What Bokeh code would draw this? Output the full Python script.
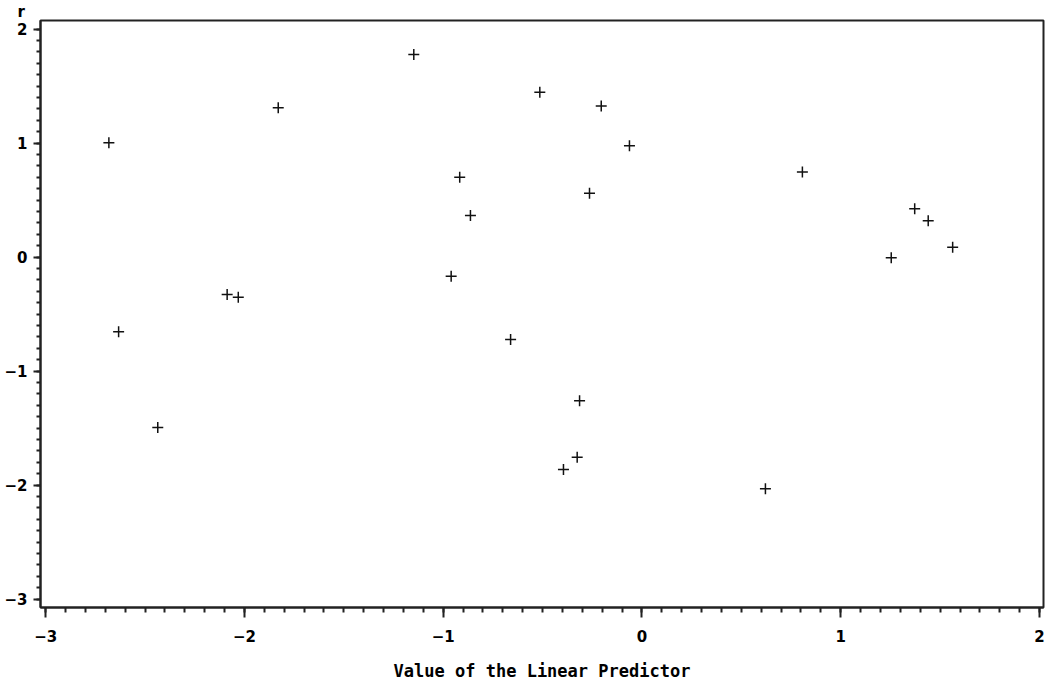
from bokeh.plotting import figure
from bokeh.models import Range1d, FixedTicker, Title
from bokeh.embed import file_html
from bokeh.resources import INLINE

# Data (linear predictor vs residual r)
linear_predictor = [-2.682, -2.633, -2.436, -2.087, -2.031, -1.830, -1.148, -0.960,
                    -0.917, -0.863, -0.661, -0.514, -0.395, -0.326, -0.314, -0.264,
                    -0.205, -0.063, 0.621, 0.807, 1.254, 1.372, 1.440, 1.563]
residual_r = [1.004, -0.654, -1.494, -0.327, -0.351, 1.311, 1.778, -0.167,
              0.702, 0.366, -0.722, 1.447, -1.862, -1.754, -1.260, 0.561,
              1.325, 0.977, -2.032, 0.746, -0.005, 0.425, 0.319, 0.088]

x_ticks = [-3, -2, -1, 0, 1, 2]
y_ticks = [-3, -2, -1, 0, 1, 2]
x_minor = [round(-3 + i * 0.1, 2) for i in range(51)]
y_minor = [round(-3 + i * 0.1, 2) for i in range(51)]

x_start, x_end = -3.026, 2.020
y_start, y_end = -3.073, 2.076

p = figure(width=1047, height=685, output_backend="svg", toolbar_location=None,
           x_range=Range1d(x_start, x_end), y_range=Range1d(y_start, y_end),
           min_border_left=40, min_border_right=4, min_border_top=20, min_border_bottom=78)

p.grid.visible = False
p.background_fill_color = "white"
p.border_fill_color = "white"
p.outline_line_color = "#222222"
p.outline_line_width = 2

p.scatter(linear_predictor, residual_r, marker="cross", size=11,
          line_color="#111111", line_width=1.5)

tick_font = "DejaVu Sans"

xa = p.xaxis[0]
xa.ticker = FixedTicker(ticks=x_ticks, minor_ticks=x_minor)
xa.axis_line_color = "#222222"
xa.axis_line_width = 2
xa.major_tick_line_color = "#222222"
xa.major_tick_line_width = 2
xa.minor_tick_line_color = "#222222"
xa.minor_tick_line_width = 2
xa.major_tick_out = 10
xa.major_tick_in = 0
xa.minor_tick_out = 5
xa.minor_tick_in = 0
xa.major_label_text_font = tick_font
xa.major_label_text_font_style = "bold"
xa.major_label_text_font_size = "15px"
xa.major_label_text_color = "black"
xa.major_label_standoff = 12
xa.axis_label = "Value of the Linear Predictor"
xa.axis_label_text_font = "DejaVu Sans Mono"
xa.axis_label_text_font_style = "bold"
xa.axis_label_text_font_size = "17px"
xa.axis_label_text_color = "black"
xa.axis_label_standoff = 16

ya = p.yaxis[0]
ya.ticker = FixedTicker(ticks=y_ticks, minor_ticks=y_minor)
ya.axis_line_color = "#222222"
ya.axis_line_width = 2
ya.major_tick_line_color = "#222222"
ya.major_tick_line_width = 2
ya.minor_tick_line_color = "#222222"
ya.minor_tick_line_width = 2
ya.major_tick_out = 7
ya.major_tick_in = 0
ya.minor_tick_out = 4
ya.minor_tick_in = 0
ya.major_label_text_font = tick_font
ya.major_label_text_font_style = "bold"
ya.major_label_text_font_size = "15px"
ya.major_label_text_color = "black"
ya.major_label_standoff = 6
ya.major_label_orientation = "horizontal"

r_title = Title(text="r", align="left", offset=-23, standoff=0,
                text_font=tick_font, text_font_style="bold", text_font_size="15px",
                text_color="black", vertical_align="bottom")
p.add_layout(r_title, "above")

open("out.html", "w").write(file_html(p, INLINE))
